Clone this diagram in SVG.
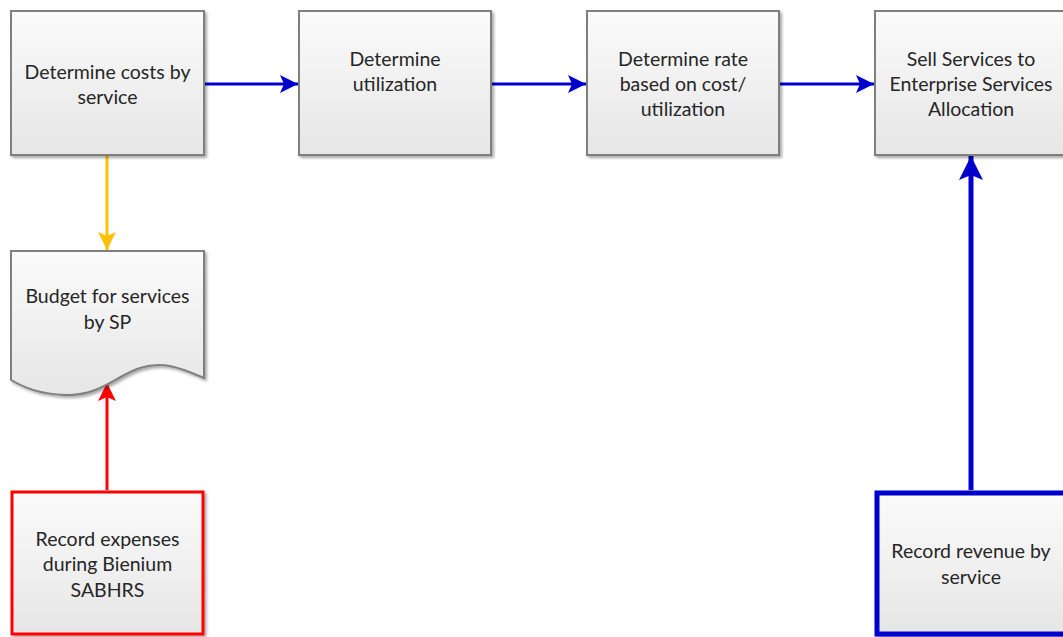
<svg xmlns="http://www.w3.org/2000/svg" width="1063" height="637" viewBox="0 0 1063 637">
<defs>
<linearGradient id="g" x1="0" y1="0" x2="0" y2="1">
<stop offset="0" stop-color="#fbfbfb"/>
<stop offset="1" stop-color="#e6e6e6"/>
</linearGradient>
<filter id="sh" x="-10%" y="-10%" width="130%" height="130%">
<feGaussianBlur in="SourceAlpha" stdDeviation="1.5"/>
<feOffset dx="2" dy="2" result="b"/>
<feComponentTransfer><feFuncA type="linear" slope="0.35"/></feComponentTransfer>
<feMerge><feMergeNode/><feMergeNode in="SourceGraphic"/></feMerge>
</filter>
<marker id="ab" markerWidth="20" markerHeight="20" refX="18" refY="10" orient="auto" markerUnits="userSpaceOnUse"><path d="M0,1 L18,10 L0,19 L4,10 Z" fill="#0000cc"/></marker>
<marker id="abl" markerWidth="26" markerHeight="26" refX="24" refY="13" orient="auto" markerUnits="userSpaceOnUse"><path d="M0,1 L24,13 L0,25 L5,13 Z" fill="#0000cc"/></marker>
<marker id="ay" markerWidth="20" markerHeight="20" refX="18" refY="10" orient="auto" markerUnits="userSpaceOnUse"><path d="M0,1 L18,10 L0,19 L4,10 Z" fill="#ffc000"/></marker>
<marker id="ar" markerWidth="20" markerHeight="20" refX="18" refY="10" orient="auto" markerUnits="userSpaceOnUse"><path d="M0,1 L18,10 L0,19 L4,10 Z" fill="#ff0000"/></marker>
</defs>
<style>
.box{fill:url(#g);stroke:#7f7f7f;stroke-width:2;filter:url(#sh)}
.t{font-family:Lato,"Open Sans","Liberation Sans",sans-serif;font-size:19.5px;fill:#262626;text-anchor:middle}
.c{fill:none}
</style>
<rect width="1063" height="637" fill="#ffffff"/>
<g id="connectors">
<line class="c" x1="205" y1="84" x2="298" y2="84" stroke="#0000cc" stroke-width="3" marker-end="url(#ab)"/>
<line class="c" x1="492" y1="84" x2="586" y2="84" stroke="#0000cc" stroke-width="3" marker-end="url(#ab)"/>
<line class="c" x1="780" y1="84" x2="874" y2="84" stroke="#0000cc" stroke-width="3" marker-end="url(#ab)"/>
<line class="c" x1="107" y1="156" x2="107" y2="250" stroke="#ffc000" stroke-width="3" marker-end="url(#ay)"/>
<line class="c" x1="107" y1="490" x2="107" y2="383" stroke="#ff0000" stroke-width="3" marker-end="url(#ar)"/>
<line class="c" x1="971" y1="490" x2="971" y2="156" stroke="#0000cc" stroke-width="5" marker-end="url(#abl)"/>
</g>
<g id="n1">
<rect class="box" x="11" y="11" width="193" height="144"/>
<text class="t" x="107.5" y="78.5">Determine costs by</text>
<text class="t" x="107.5" y="103.5">service</text>
</g>
<g id="n2">
<rect class="box" x="299" y="11" width="192" height="144"/>
<text class="t" x="395" y="65.5">Determine</text>
<text class="t" x="395" y="90.5">utilization</text>
</g>
<g id="n3">
<rect class="box" x="587" y="11" width="192" height="144"/>
<text class="t" x="683" y="65.5">Determine rate</text>
<text class="t" x="683" y="90.5">based on cost/</text>
<text class="t" x="683" y="115.5">utilization</text>
</g>
<g id="n4">
<rect class="box" x="875" y="11" width="192" height="144"/>
<text class="t" x="971" y="65.5">Sell Services to</text>
<text class="t" x="971" y="90.5">Enterprise Services</text>
<text class="t" x="971" y="115.5">Allocation</text>
</g>
<g id="n5">
<path class="box" d="M11,251 L204,251 L204,378 C185,370 165,360 140,368 C115,376 100,396 65,395 C40,394 25,388 11,380 Z"/>
<text class="t" x="107.5" y="302.5">Budget for services</text>
<text class="t" x="107.5" y="328.5">by SP</text>
</g>
<g id="n6">
<rect class="box" x="12" y="492" width="191" height="142" style="stroke:#ff0000;stroke-width:3"/>
<text class="t" x="107.5" y="545.5">Record expenses</text>
<text class="t" x="107.5" y="570.5">during Bienium</text>
<text class="t" x="107.5" y="596.5">SABHRS</text>
</g>
<g id="n7">
<rect class="box" x="877" y="493" width="192" height="141" style="stroke:#0000cc;stroke-width:5"/>
<text class="t" x="971" y="557.5">Record revenue by</text>
<text class="t" x="971" y="583.5">service</text>
</g>
</svg>
